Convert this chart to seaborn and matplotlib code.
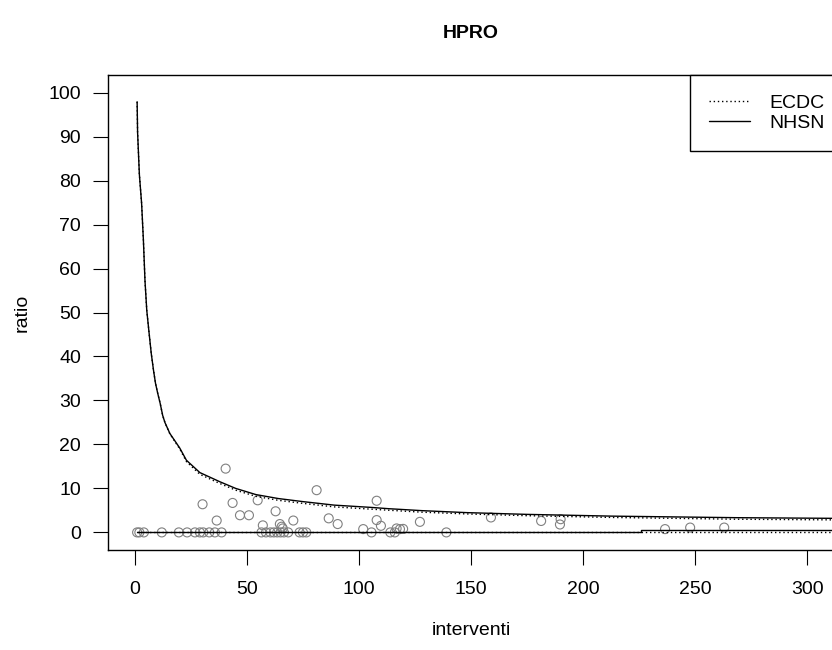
import numpy as np
import pandas as pd
import matplotlib
matplotlib.use("Agg")
import matplotlib.pyplot as plt
import seaborn as sns
from matplotlib.lines import Line2D

# observed points (interventi, ratio)
interventi = [1, 2, 4, 12, 19.6, 23.3, 26.8, 29, 30.5, 33.2, 35.7, 38.7,
              30.2, 36.5, 40.5, 43.6, 46.9, 50.9, 54.8,
              56.5, 58.5, 60.5, 62, 63.5, 65, 66.5, 68.4,
              57.1, 62.8, 64.7, 65.5, 66, 70.7, 73.5, 75, 76.5,
              81.1, 86.5, 90.5, 101.9, 105.6, 107.9, 107.9, 109.8,
              114, 116, 116.8, 118.3, 119.7, 127.2, 139, 158.9,
              181.3, 190, 189.7, 236.6, 247.8, 263]
ratio = [0, 0, 0, 0, 0, 0, 0, 0, 0, 0, 0, 0,
         6.4, 2.7, 14.5, 6.7, 3.9, 3.9, 7.3,
         0, 0, 0, 0, 0, 0, 0, 0,
         1.6, 4.8, 1.9, 1.3, 0.9, 2.7, 0, 0, 0,
         9.6, 3.2, 1.9, 0.75, 0, 7.2, 2.8, 1.5,
         0, 0, 0.9, 0.75, 0.8, 2.4, 0, 3.4,
         2.6, 3.0, 1.8, 0.75, 1.1, 1.1]

# control limits
curve_x = [1, 1.2, 2, 3, 3.8, 4.5, 5.3, 6.2, 7.3, 8.3, 9.2, 10.2, 11.3,
           12.4, 13.4, 15.6, 20, 23, 29, 38, 45, 54, 64, 75, 89, 105,
           113, 128, 148, 175, 213, 268, 312, 330]
nhsn_upper = [97.9, 91, 81.4, 74.8, 66.4, 57.3, 50.5, 46, 40.7, 36.9, 33.9,
              31.6, 29.3, 26.6, 25, 22.5, 19.2, 16.4, 13.6, 11.5, 10, 8.6,
              7.7, 7.0, 6.2, 5.7, 5.4, 4.95, 4.5, 4.1, 3.7, 3.35, 3.2, 3.15]
ecdc_upper = [97.9, 91, 81.4, 74.8, 66.4, 57.3, 50.5, 46, 40.7, 36.9, 33.9,
              31.6, 29.3, 26.6, 25, 22.4, 19.0, 16.1, 13.2, 11.1, 9.6, 8.2,
              7.3, 6.6, 5.8, 5.3, 5.05, 4.6, 4.2, 3.8, 3.4, 3.0, 2.85, 2.8]
lower_x = [1, 226, 226, 330]
nhsn_lower = [0, 0, 0.5, 0.5]
ecdc_lower = [0, 0, 0.15, 0.15]

sns.set_style("white")
plt.rcParams["font.family"] = ["Liberation Sans", "DejaVu Sans"]
plt.rcParams["text.color"] = "black"
plt.rcParams["axes.labelcolor"] = "black"
plt.rcParams["xtick.color"] = "black"
plt.rcParams["ytick.color"] = "black"
fs = 14

fig = plt.figure(figsize=(8.32, 6.5), dpi=100)
ax = fig.add_axes([108 / 832, 100 / 650, 726 / 832, 475 / 650])

sns.scatterplot(x=interventi, y=ratio, ax=ax, marker="o", s=42,
                facecolor="none", edgecolor="#808080", linewidth=0.8, zorder=2)

dot = (0, (1, 2))
sns.lineplot(x=curve_x, y=nhsn_upper, ax=ax, estimator=None, sort=False,
             color="black", lw=1.0, zorder=3)
sns.lineplot(x=curve_x, y=ecdc_upper, ax=ax, estimator=None, sort=False,
             color="black", lw=1.0, linestyle=dot, zorder=3)
sns.lineplot(x=lower_x, y=nhsn_lower, ax=ax, estimator=None, sort=False,
             color="black", lw=1.0, zorder=3)
sns.lineplot(x=lower_x, y=ecdc_lower, ax=ax, estimator=None, sort=False,
             color="black", lw=1.0, linestyle=dot, zorder=3)

ax.set_xlim(-12, 312)
ax.set_ylim(-4, 104)
ax.set_xticks(range(0, 301, 50))
ax.set_yticks(range(0, 101, 10))
ax.tick_params(axis="both", direction="out", length=10.5, width=0.8,
               color="black", labelsize=fs, bottom=True, left=True)
ax.tick_params(axis="x", pad=12)
ax.tick_params(axis="y", pad=9)
for sp in ax.spines.values():
    sp.set_color("black")
    sp.set_linewidth(1.0)

ax.set_xlabel("interventi", fontsize=fs, labelpad=17)
ax.set_ylabel("ratio", fontsize=fs, labelpad=13)
fig.text(471 / 832, 1 - 33 / 650, "HPRO", ha="center", va="center",
         fontsize=fs, fontweight="bold")

handles = [Line2D([], [], color="black", lw=1.0, linestyle=dot),
           Line2D([], [], color="black", lw=1.0)]
leg = ax.legend(handles, ["ECDC", "NHSN"], loc="upper left",
                bbox_to_anchor=((690 - 108) / 726, 1), borderaxespad=0,
                fontsize=fs, frameon=True, fancybox=False, framealpha=1,
                edgecolor="black", handlelength=2.1, handletextpad=1.0,
                borderpad=1.0, labelspacing=0.12)
leg.get_frame().set_linewidth(1.0)

fig.savefig("out.png", dpi=100)
